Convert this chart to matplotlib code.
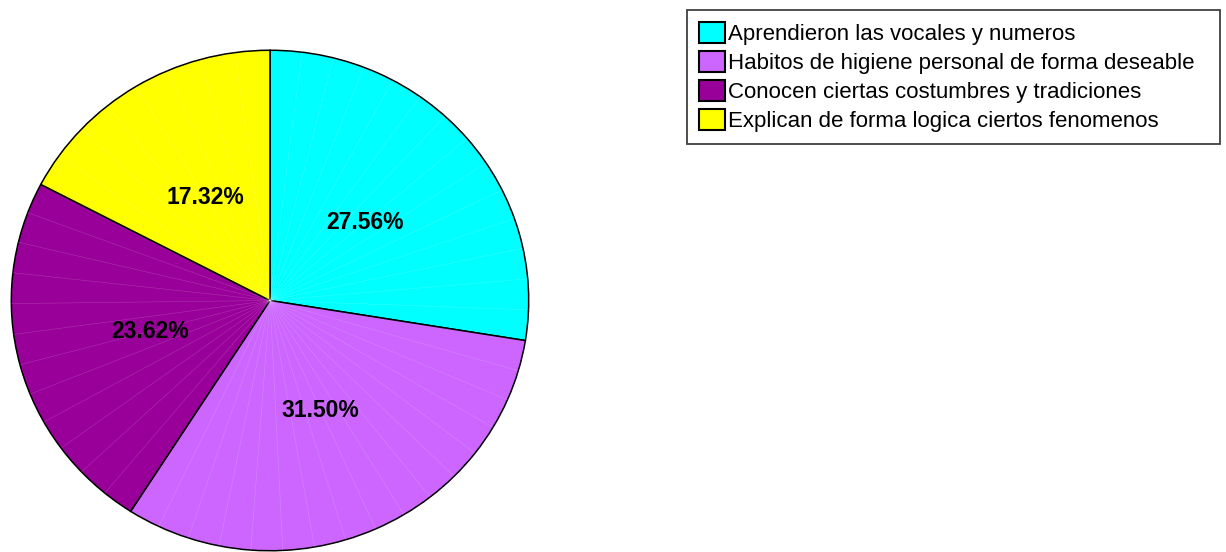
import numpy as np
import matplotlib.pyplot as plt

# ===== Datos =====
etiquetas = ['Aprendieron las vocales y numeros',
             'Habitos de higiene personal de forma deseable',
             'Conocen ciertas costumbres y tradiciones',
             'Explican de forma logica ciertos fenomenos']
valores = [35, 40, 30, 22]
colores = ['#00FFFF', '#CC66FF', '#990099', '#FFFF00']

plt.rcParams['font.family'] = ['Liberation Sans', 'DejaVu Sans']

fig = plt.figure(figsize=(12.26, 5.52), dpi=100)
ax = fig.add_axes([10 / 1226, 0.0, 520 / 1226, 503 / 552])

wedges, textos, autotextos = ax.pie(
    valores, colors=colores, startangle=90, counterclock=False,
    autopct='%.2f%%', pctdistance=0.48,
    wedgeprops=dict(edgecolor='black', linewidth=1.1),
    textprops=dict(fontsize=16.5, fontweight='bold', color='black'))

# lineas radiales tenues (facetas del grafico original)
total = sum(valores)
ang = 90.0
for v in valores:
    span = 360.0 * v / total
    n = max(int(span / 7), 1)
    for k in range(1, n):
        a = np.deg2rad(ang - span * k / n)
        ax.plot([0, np.cos(a)], [0, np.sin(a)], color='white', lw=0.4, alpha=0.2)
    ang -= span

ax.set_aspect('auto')
ax.set_xlim(-1.005, 1.005)
ax.set_ylim(-1.005, 1.005)

leg = fig.legend(wedges, etiquetas, loc='upper left',
                 bbox_to_anchor=(687 / 1226, 1 - 142 / 552, 533 / 1226, 132 / 552),
                 mode='expand',
                 fontsize=16, frameon=True, fancybox=False, framealpha=1,
                 edgecolor='#404040', handlelength=1.15, handleheight=1.05,
                 handletextpad=0.15, labelspacing=0.27, borderpad=0.55,
                 borderaxespad=0)
leg.get_frame().set_linewidth(1.3)
for h in leg.legend_handles:
    h.set_edgecolor('black')
    h.set_linewidth(1.5)

fig.savefig('out.png', dpi=100)
